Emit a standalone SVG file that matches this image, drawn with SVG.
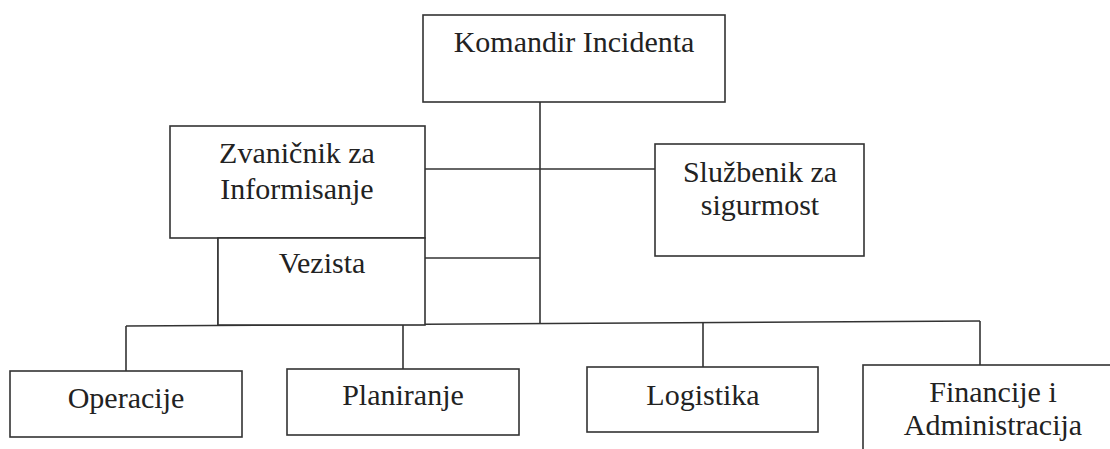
<svg xmlns="http://www.w3.org/2000/svg" width="1110" height="449" viewBox="0 0 1110 449">
<style>
.box{fill:#fff;stroke:#333;stroke-width:1.6}
.ln{stroke:#333;stroke-width:1.6;fill:none}
text{font-family:"Liberation Serif","Times New Roman",serif;font-size:30px;fill:#222;text-anchor:middle}
</style>
<rect width="1110" height="449" fill="#fff"/>
<g id="connectors">
<line class="ln" x1="540" y1="102" x2="540" y2="323.5"/>
<line class="ln" x1="425" y1="169" x2="655" y2="169"/>
<line class="ln" x1="425" y1="258" x2="540" y2="258"/>
<line class="ln" x1="218" y1="238" x2="218" y2="326"/>
<line class="ln" x1="126" y1="326" x2="980" y2="321"/>
<line class="ln" x1="126" y1="326" x2="126" y2="371"/>
<line class="ln" x1="403" y1="324.4" x2="403" y2="369"/>
<line class="ln" x1="703" y1="322.6" x2="703" y2="367"/>
<line class="ln" x1="980" y1="321" x2="980" y2="365"/>
</g>
<g id="komandir">
<rect class="box" x="423" y="15" width="302" height="87"/>
<text x="574" y="52">Komandir Incidenta</text>
</g>
<g id="zvanicnik">
<rect class="box" x="170" y="126" width="255" height="112"/>
<text x="297" y="163">Zvaničnik za</text>
<text x="297" y="199">Informisanje</text>
</g>
<g id="vezista">
<rect class="box" x="218" y="238" width="207" height="87"/>
<text x="322" y="273">Vezista</text>
</g>
<g id="sluzbenik">
<rect class="box" x="655" y="144" width="209" height="112"/>
<text x="760" y="182">Službenik za</text>
<text x="760" y="215">sigurmost</text>
</g>
<g id="operacije">
<rect class="box" x="10" y="371" width="232" height="66"/>
<text x="126" y="408">Operacije</text>
</g>
<g id="planiranje">
<rect class="box" x="287" y="369" width="232" height="66"/>
<text x="403" y="405">Planiranje</text>
</g>
<g id="logistika">
<rect class="box" x="587" y="367" width="231" height="65"/>
<text x="703" y="405">Logistika</text>
</g>
<g id="financije">
<rect class="box" x="863" y="365" width="260" height="100"/>
<text x="993" y="402">Financije i</text>
<text x="993" y="435">Administracija</text>
</g>
</svg>
